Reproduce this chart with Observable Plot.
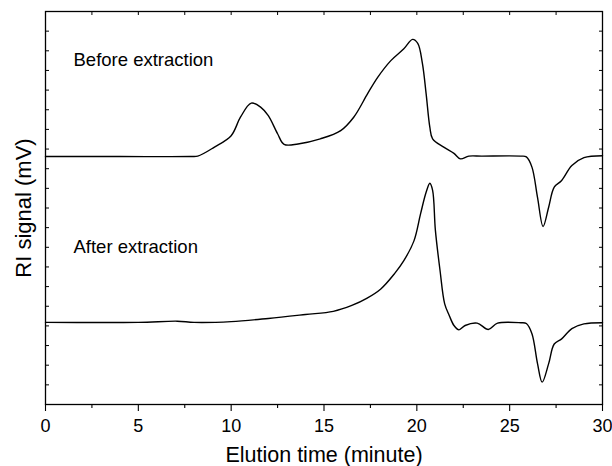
<!DOCTYPE html>
<html>
<head>
<meta charset="utf-8">
<script src="https://cdn.jsdelivr.net/npm/d3@7"></script>
<script src="https://cdn.jsdelivr.net/npm/@observablehq/plot@0.6"></script>
<style>
  html, body { margin: 0; padding: 0; background: #ffffff; }
  #chart { width: 612px; height: 466px; }
</style>
</head>
<body>
<div id="chart"></div>
<script>
// Elution time (minute) and RI signal (arbitrary mV units)
const beforeTime = [0, 4, 7.8, 8.2, 9.1, 10.0, 10.5, 11.08, 11.6, 12.0, 12.5, 12.85, 13.6, 14.8, 15.9, 16.6, 17.35, 17.9, 18.6, 19.3, 19.77, 20.05, 20.3, 20.5, 20.7, 20.85, 21.45, 22.0, 22.35, 22.8, 23.5, 25.6, 25.9, 26.2, 26.5, 26.8, 27.1, 27.4, 27.8, 28.35, 29.0, 30];
const beforeSignal = [63.1, 63.1, 63.1, 63.2, 65.5, 68.4, 73.1, 76.7, 75.6, 73.5, 68.9, 66.2, 66.3, 67.6, 69.7, 73.1, 79.1, 83.3, 87.5, 90.5, 92.9, 91.9, 86.8, 79.1, 70.6, 67.6, 65.5, 63.9, 62.5, 63.2, 63.2, 63.2, 63.0, 60.4, 52.7, 45.3, 50.2, 55.3, 57.0, 60.8, 62.8, 63.3];

const afterTime = [0, 5, 7.1, 8, 10, 12, 14, 15.5, 16.5, 17.3, 18.06, 18.8, 19.3, 19.85, 20.2, 20.5, 20.7, 20.85, 21.0, 21.25, 21.5, 21.75, 22.0, 22.27, 22.6, 23.25, 23.85, 24.35, 25.6, 25.9, 26.2, 26.5, 26.75, 27.1, 27.4, 27.8, 28.35, 29.0, 30];
const afterSignal = [20.9, 20.9, 21.2, 20.9, 21.1, 21.9, 22.9, 23.7, 25.2, 27.0, 29.4, 33.3, 36.6, 41.7, 48.5, 54.0, 56.3, 54.5, 44.3, 34.1, 25.6, 22.6, 20.1, 19.0, 20.1, 20.7, 19.1, 20.7, 20.8, 20.6, 18.0, 10.4, 5.7, 10.4, 15.4, 16.7, 19.3, 20.5, 20.8];

const xMajorTicks = [0, 5, 10, 15, 20, 25, 30];
const xMinorTicks = [2.5, 7.5, 12.5, 17.5, 22.5, 27.5];
const yTicks = [0, 5, 10, 15, 20, 25, 30, 35, 40, 45, 50, 55, 60, 65, 70, 75, 80, 85, 90, 95, 100];

const seriesLabels = ["Before extraction", "After extraction"];
const xTitle = "Elution time (minute)";
const yTitle = "RI signal (mV)";

const before = beforeTime.map((t, i) => ({t, v: beforeSignal[i]}));
const after = afterTime.map((t, i) => ({t, v: afterSignal[i]}));

const font = "'Liberation Sans', Arial, Helvetica, sans-serif";

const chart = Plot.plot({
  width: 612,
  height: 466,
  marginLeft: 45,
  marginRight: 10,
  marginTop: 11,
  marginBottom: 62,
  x: {domain: [0, 30]},
  y: {domain: [0, 100]},
  style: {fontFamily: font, background: "#ffffff", color: "#000000"},
  marks: [
    Plot.axisX({ticks: xMajorTicks, tickSize: 7, tickPadding: 8, fontSize: 18, label: null, tickFormat: d => String(d), stroke: "#000", strokeWidth: 1.1}),
    Plot.axisX({ticks: xMinorTicks, tickSize: 4, label: null, tickFormat: () => "", stroke: "#000", strokeWidth: 1.1}),
    Plot.axisX({anchor: "top", ticks: xMajorTicks.concat(xMinorTicks), tickSize: 3, dy: 3, label: null, tickFormat: () => "", stroke: "#000"}),
    Plot.axisY({anchor: "left", ticks: yTicks, tickSize: 4, dx: 4, label: null, tickFormat: () => "", stroke: "#000"}),
    Plot.axisY({anchor: "right", ticks: yTicks, tickSize: 4, dx: -4, label: null, tickFormat: () => "", stroke: "#000"}),
    Plot.frame({stroke: "#000", strokeWidth: 1.3}),
    Plot.line(before, {x: "t", y: "v", stroke: "#000", strokeWidth: 1.4, curve: "catmull-rom"}),
    Plot.line(after, {x: "t", y: "v", stroke: "#000", strokeWidth: 1.4, curve: "catmull-rom"}),
    Plot.text([seriesLabels[0]], {frameAnchor: "top-left", textAnchor: "start", lineAnchor: "middle", dx: 28, dy: 49, fontSize: 18.5, fill: "#000"}),
    Plot.text([seriesLabels[1]], {frameAnchor: "top-left", textAnchor: "start", lineAnchor: "middle", dx: 28, dy: 236, fontSize: 18.5, fill: "#000"}),
    Plot.text([xTitle], {frameAnchor: "bottom", textAnchor: "middle", lineAnchor: "middle", dy: 51, fontSize: 21.5, fill: "#000"}),
    Plot.text([yTitle], {frameAnchor: "left", textAnchor: "middle", lineAnchor: "middle", rotate: -90, dx: -22, fontSize: 22, fill: "#000"})
  ]
});

document.getElementById("chart").appendChild(chart);
</script>
</body>
</html>
